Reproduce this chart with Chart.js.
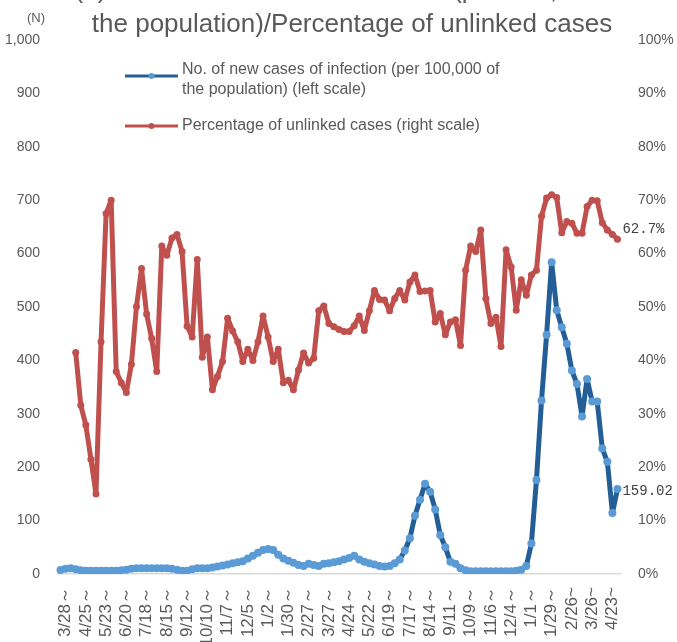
<!DOCTYPE html>
<html>
<head>
<meta charset="utf-8">
<script src="https://cdn.jsdelivr.net/npm/chart.js@4.4.1/dist/chart.umd.min.js"></script>
<style>
  html, body { margin: 0; padding: 0; background: #fff; }
  #wrap { position: relative; width: 677px; height: 642px; }
</style>
</head>
<body>
<div id="wrap"><canvas id="chart"></canvas></div>
<script>
// weekly categories, first week = Sat 3/21/2020, 111 weeks
const weeks = [];
for (let i = 0; i < 111; i++) {
  const d = new Date(2020, 2, 21 + i * 7);
  weeks.push((d.getMonth() + 1) + '/' + d.getDate());
}

// labels shown under the axis (every 4th week, from 3/28)
const tickLabels = ['3/28～', '4/25～', '5/23～', '6/20～', '7/18～', '8/15～', '9/12～',
  '10/10～', '11/7～', '12/5～', '1/2～', '1/30～', '2/27～', '3/27～', '4/24～', '5/22～',
  '6/19～', '7/17～', '8/14～', '9/11～', '10/9～', '11/6～', '12/4～', '1/1～', '1/29～',
  '2/26~', '3/26~', '4/23~'];

// new cases per 100,000 (left scale)
const newCases = [7.5, 10, 11, 9, 7, 6, 6, 6, 6, 6,
  6, 6, 7, 8, 10, 11, 11, 11, 11, 11,
  11, 11, 10, 8, 6, 6, 9, 11, 11, 11,
  12, 14, 16, 18, 20, 22, 24, 29, 34, 40,
  45, 47, 45, 36, 29, 25, 21, 17, 15, 19,
  17, 15, 19, 20, 22, 24, 27, 30, 34, 27,
  23, 20, 18, 15, 14, 15, 20, 27, 44, 67,
  109, 139, 169, 154, 121, 73, 50, 23, 19, 11,
  7, 5, 5, 5, 5, 5, 5, 5, 5, 5,
  6, 8, 15, 57, 176, 325, 448, 584, 494, 462,
  431, 381, 356, 295, 365, 323, 323, 235, 210, 114, 159.02];

// percentage of unlinked cases (right scale)
const unlinked = [null, null, null, 41.5, 31.6, 27.9, 21.5, 15.0, 43.5, 67.5,
  70.0, 37.9, 35.8, 34.0, 39.3, 50.1, 57.2, 48.7, 44.1, 37.9,
  61.4, 59.7, 62.9, 63.6, 60.4, 46.4, 44.4, 58.9, 40.6, 44.4,
  34.5, 37.0, 39.8, 47.9, 45.5, 43.5, 39.8, 42.1, 40.0, 43.5,
  48.3, 44.4, 39.8, 42.1, 35.8, 36.3, 34.5, 38.2, 41.4, 39.5,
  40.4, 49.3, 50.2, 46.9, 46.3, 45.8, 45.4, 45.4, 46.5, 48.3,
  45.6, 49.3, 53.1, 51.4, 51.3, 49.3, 51.6, 53.1, 51.3, 54.7,
  56.0, 52.9, 53.0, 53.1, 47.2, 48.8, 44.8, 47.2, 47.6, 42.8,
  56.9, 61.4, 60.4, 64.4, 51.6, 46.9, 48.1, 42.6, 60.7, 57.5,
  49.4, 55.1, 52.2, 56.0, 56.9, 67.0, 70.4, 71.0, 70.5, 63.9,
  66.0, 65.7, 63.8, 63.8, 68.8, 70.0, 69.9, 65.8, 64.4, 63.6, 62.7];

const titleLines = ['(1) No. of new cases of infection (per 100,000 of',
  'the population)/Percentage of unlinked cases'];
const legendCases = ['No. of new cases of infection (per 100,000 of', 'the population) (left scale)'];
const legendUnlinked = 'Percentage of unlinked cases (right scale)';

const BLUE_LINE = '#245E96';
const BLUE_DOT = '#5B9BD5';
const RED = '#C0504D';
const TEXT = '#595959';
const SANS = '"Liberation Sans", Arial, sans-serif';

Chart.defaults.font.family = SANS;
Chart.defaults.color = TEXT;

// title, legend and end-of-line labels drawn on top
const overlay = {
  id: 'overlay',
  afterDraw(chart) {
    const ctx = chart.ctx;
    ctx.save();
    ctx.fillStyle = TEXT;
    ctx.textAlign = 'center';
    ctx.textBaseline = 'alphabetic';
    ctx.font = '26px ' + SANS;
    ctx.fillText(titleLines[0], 352, -2);   // first line is cut off by the top edge
    ctx.fillText(titleLines[1], 352, 32);

    ctx.font = '13px ' + SANS;
    ctx.textBaseline = 'middle';
    ctx.fillText('(N)', 36, 18);

    // legend
    const sym = (y, line, dot) => {
      ctx.strokeStyle = line;
      ctx.lineWidth = 3;
      ctx.beginPath(); ctx.moveTo(125, y); ctx.lineTo(178, y); ctx.stroke();
      ctx.fillStyle = dot;
      ctx.beginPath(); ctx.arc(151.5, y, 3, 0, Math.PI * 2); ctx.fill();
    };
    sym(76, BLUE_LINE, BLUE_DOT);
    sym(126, RED, RED);
    ctx.fillStyle = TEXT;
    ctx.textAlign = 'left';
    ctx.font = '16px ' + SANS;
    ctx.fillText(legendCases[0], 182, 70);
    ctx.fillText(legendCases[1], 182, 90);
    ctx.fillText(legendUnlinked, 182, 126);

    // values at the last points
    ctx.font = '14px "Liberation Mono", "DejaVu Sans Mono", monospace';
    ctx.fillStyle = '#404040';
    const lastBlue = chart.getDatasetMeta(0).data[newCases.length - 1];
    const lastRed = chart.getDatasetMeta(1).data[unlinked.length - 1];
    ctx.fillText(newCases[newCases.length - 1].toFixed(2), lastBlue.x + 5, lastBlue.y + 2);
    ctx.fillText(unlinked[unlinked.length - 1].toFixed(1) + '%', lastRed.x + 5, lastRed.y - 10);
    ctx.restore();
  }
};

new Chart(document.getElementById('chart'), {
  type: 'line',
  data: {
    labels: weeks,
    datasets: [
      {
        label: legendCases.join(' '),
        data: newCases,
        yAxisID: 'y',
        borderColor: BLUE_LINE,
        borderWidth: 5,
        borderJoinStyle: 'round',
        borderCapStyle: 'round',
        pointRadius: 4,
        pointBackgroundColor: BLUE_DOT,
        pointBorderColor: BLUE_DOT,
        pointBorderWidth: 0,
        tension: 0
      },
      {
        label: legendUnlinked,
        data: unlinked,
        yAxisID: 'y1',
        borderColor: RED,
        borderWidth: 5,
        borderJoinStyle: 'round',
        borderCapStyle: 'round',
        pointRadius: 3.5,
        pointBackgroundColor: RED,
        pointBorderColor: RED,
        pointBorderWidth: 0,
        tension: 0
      }
    ]
  },
  options: {
    responsive: true,
    maintainAspectRatio: false,
    animation: false,
    layout: { padding: { top: 40, left: 0, right: 0, bottom: 0 } },
    plugins: { legend: { display: false }, tooltip: { enabled: false } },
    scales: {
      x: {
        offset: true,
        grid: { display: false, drawTicks: false },
        border: { color: '#d9d9d9', width: 1.5 },
        ticks: {
          autoSkip: false, minRotation: 90, maxRotation: 90, padding: 13,
          color: TEXT, font: { size: 17 },
          callback: (v, i) => (i % 4 === 1 ? tickLabels[(i - 1) / 4] : '')
        },
        afterFit: s => { s.height = 68; }
      },
      y: {
        position: 'left', min: 0, max: 1000,
        grid: { display: false, drawTicks: false },
        border: { display: false },
        ticks: { stepSize: 100, padding: 18, font: { size: 14 }, color: TEXT,
          callback: v => v.toLocaleString('en-US') },
        afterFit: s => { s.width = 58; }
      },
      y1: {
        position: 'right', min: 0, max: 100,
        grid: { display: false, drawTicks: false },
        border: { display: false },
        ticks: { stepSize: 10, padding: 18, font: { size: 14 }, color: TEXT,
          callback: v => v + '%' },
        afterFit: s => { s.width = 57; }
      }
    }
  },
  plugins: [overlay]
});
</script>
</body>
</html>
